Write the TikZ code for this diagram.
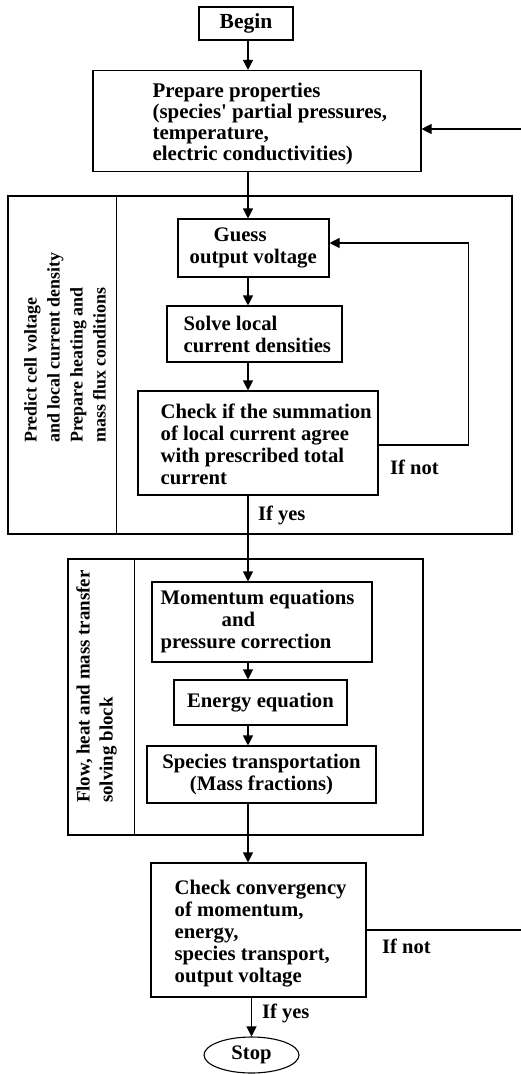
\documentclass[tikz,border=0pt]{standalone}
\usepackage{fontspec}
\setmainfont{Liberation Serif}
\usetikzlibrary{shapes.geometric, arrows.meta, positioning}

\newcommand{\chartfont}[2]{\fontsize{#1}{#2}\selectfont\bfseries}

\tikzset{
  box/.style={draw, rectangle, line width=1.1pt, inner sep=0pt, align=center, font=\chartfont{20.7}{22}},
  txt/.style={align=left, inner sep=0pt, font=\chartfont{20.7}{22}},
  side/.style={anchor=west, rotate=90, align=left, inner sep=0pt},
  lbl/.style={anchor=west, inner sep=0pt, font=\chartfont{20.5}{22}},
  arr/.style={line width=1.1pt, -{Triangle[length=10pt,width=10pt]}}
}

\begin{document}
\begin{tikzpicture}[x=1pt, y=-1pt]
\useasboundingbox (0,0) rectangle (520,1074);
\coordinate (axis) at (248,0);
\coordinate (ret) at (530,0);

% top part
\node[box, minimum width=94, minimum height=33, font=\chartfont{21.5}{22}] (begin) at (246,23.5) {Begin};
\node[box, minimum width=328, minimum height=101] (prep) at (257,121) {};
\node[txt, right=60pt of prep.west, yshift=-3pt, font=\chartfont{20.9}{21}] (prep-t) {Prepare properties\\(species\textquotesingle{} partial pressures,\\temperature,\\electric conductivities)};

% voltage block
\node[draw, line width=1.1pt, minimum width=504, minimum height=338, inner sep=0pt] (blk1) at (260,365) {};
\draw[line width=1.1pt] ([xshift=109]blk1.north west) -- ([xshift=109]blk1.south west);
\node[side, font=\chartfont{17.9}{23}] (side1) at (65,443) {Predict cell voltage\\and local current density\\Prepare heating and\\mass flux conditions};

\node[box, minimum width=151, minimum height=58] (guess) at (253.5,248) {};
\node[txt, right=12pt of guess.west] (guess-t) {\hspace*{24pt}Guess\\output voltage};
\node[box, minimum width=175, minimum height=56] (solve) at (254.5,334) {};
\node[txt, right=17pt of solve.west] (solve-t) {Solve local\\current densities};
\node[box, minimum width=240, minimum height=104] (check) at (258,443) {};
\node[txt, right=23pt of check.west, yshift=-1pt] (check-t) {Check if the summation\\of local current agree\\with prescribed total\\current};
\node[lbl] (ifnot1) at (390,467) {If not};
\node[lbl] (ifyes1) at (258,515) {If yes};

% flow block
\node[draw, line width=1.1pt, minimum width=355, minimum height=276, inner sep=0pt] (blk2) at (245.5,697) {};
\draw[line width=1.1pt] ([xshift=67]blk2.north west) -- ([xshift=67]blk2.south west);
\node[side, font=\chartfont{18.9}{23}] (side2) at (96.5,803) {Flow, heat and mass transfer\\solving block};

\node[box, minimum width=220, minimum height=80] (mom) at (262,622) {};
\node[txt, right=9pt of mom.west] (mom-t) {Momentum equations\\\hspace*{61pt}and\\pressure correction};
\node[box, minimum width=173, minimum height=45] (energy) at (260.5,702.5) {Energy equation};
\node[box, minimum width=229, minimum height=57] (species) at (261.5,774.5) {Species transportation\\(Mass fractions)};

% convergence
\node[box, minimum width=215, minimum height=134] (conv) at (258.5,930) {};
\node[txt, right=24pt of conv.west, yshift=-4pt] (conv-t) {Check convergency\\of momentum,\\energy,\\species transport,\\output voltage};
\node[lbl] (ifnot2) at (382,946) {If not};
\node[lbl] (ifyes2) at (262,1013) {If yes};
\node[draw, ellipse, line width=1.1pt, minimum width=95, minimum height=36, inner sep=0pt, font=\chartfont{20.6}{22}] (stop) at (251.5,1055) {Stop};

% connectors
\draw[arr] (begin.south -| axis) -- (prep.north -| axis);
\draw[arr] (prep.south -| axis) -- (guess.north -| axis);
\draw[arr] (guess.south -| axis) -- (solve.north -| axis);
\draw[arr] (solve.south -| axis) -- (check.north -| axis);
\draw[arr] ([yshift=-2pt]check.east) -- ++(90,0) |- ([yshift=5pt]guess.east);
\draw[arr] (check.south -| axis) -- (mom.north -| axis);
\draw[arr] (mom.south -| axis) -- (energy.north -| axis);
\draw[arr] (energy.south -| axis) -- (species.north -| axis);
\draw[arr] (species.south -| axis) -- (conv.north -| axis);
\draw[arr] (conv.south -| stop.north) -- (stop.north);
\draw[arr] (conv.east) -- (conv.east -| ret) |- ([yshift=-8pt]prep.east);
\end{tikzpicture}
\end{document}
